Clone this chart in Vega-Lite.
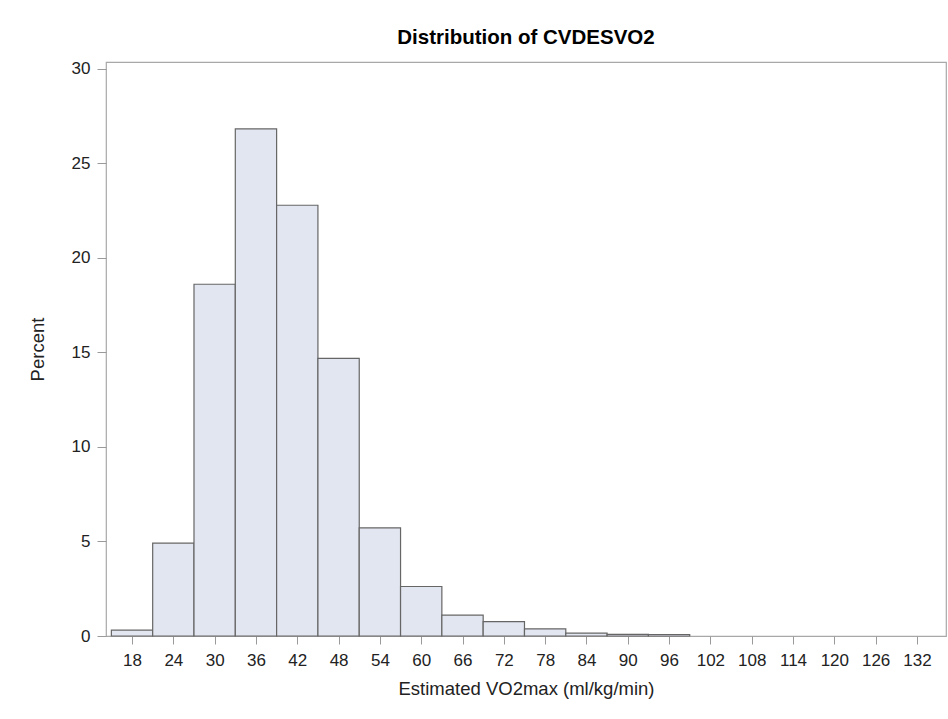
{
  "$schema": "https://vega.github.io/schema/vega-lite/v6.json",
  "width": 840,
  "height": 574,
  "autosize": "none",
  "padding": {"left": 106, "top": 62, "right": 2, "bottom": 83},
  "background": "white",
  "title": {
    "text": "Distribution of CVDESVO2",
    "font": "Liberation Sans",
    "fontSize": 20.5,
    "fontWeight": "bold",
    "color": "#000000",
    "anchor": "middle",
    "offset": 11
  },
  "data": {
    "values": [
      {"bin_start": 15, "bin_end": 21, "percent": 0.31},
      {"bin_start": 21, "bin_end": 27, "percent": 4.91},
      {"bin_start": 27, "bin_end": 33, "percent": 18.61},
      {"bin_start": 33, "bin_end": 39, "percent": 26.83},
      {"bin_start": 39, "bin_end": 45, "percent": 22.79},
      {"bin_start": 45, "bin_end": 51, "percent": 14.69},
      {"bin_start": 51, "bin_end": 57, "percent": 5.72},
      {"bin_start": 57, "bin_end": 63, "percent": 2.62},
      {"bin_start": 63, "bin_end": 69, "percent": 1.1},
      {"bin_start": 69, "bin_end": 75, "percent": 0.76},
      {"bin_start": 75, "bin_end": 81, "percent": 0.38},
      {"bin_start": 81, "bin_end": 87, "percent": 0.15},
      {"bin_start": 87, "bin_end": 93, "percent": 0.09},
      {"bin_start": 93, "bin_end": 99, "percent": 0.08}
    ]
  },
  "mark": {"type": "rect", "fill": "#e2e6f0", "stroke": "#666666", "strokeWidth": 1.2},
  "encoding": {
    "x": {
      "field": "bin_start",
      "type": "quantitative",
      "scale": {"domain": [14.22, 136.22], "nice": false, "zero": false},
      "axis": {
        "values": [18, 24, 30, 36, 42, 48, 54, 60, 66, 72, 78, 84, 90, 96, 102, 108, 114, 120, 126, 132],
        "title": "Estimated VO2max (ml/kg/min)",
        "domain": false,
        "grid": false,
        "tickSize": 8,
        "tickColor": "#9a9a9a",
        "labelFont": "Liberation Sans",
        "labelFontSize": 17,
        "labelColor": "#222222",
        "labelPadding": 8,
        "titleFont": "Liberation Sans",
        "titleFontSize": 18.5,
        "titleFontWeight": "normal",
        "titleColor": "#222222",
        "titlePadding": 11
      }
    },
    "x2": {"field": "bin_end"},
    "y": {
      "field": "percent",
      "type": "quantitative",
      "scale": {"domain": [0, 30.37], "nice": false},
      "axis": {
        "values": [0, 5, 10, 15, 20, 25, 30],
        "title": "Percent",
        "domain": false,
        "grid": false,
        "tickSize": 9,
        "tickColor": "#9a9a9a",
        "labelFont": "Liberation Sans",
        "labelFontSize": 17,
        "labelColor": "#222222",
        "labelPadding": 7,
        "titleFont": "Liberation Sans",
        "titleFontSize": 18.5,
        "titleFontWeight": "normal",
        "titleColor": "#222222",
        "titlePadding": 24
      }
    },
    "y2": {"datum": 0}
  },
  "config": {
    "view": {"stroke": "#a8a8a8", "strokeWidth": 1.2}
  }
}
